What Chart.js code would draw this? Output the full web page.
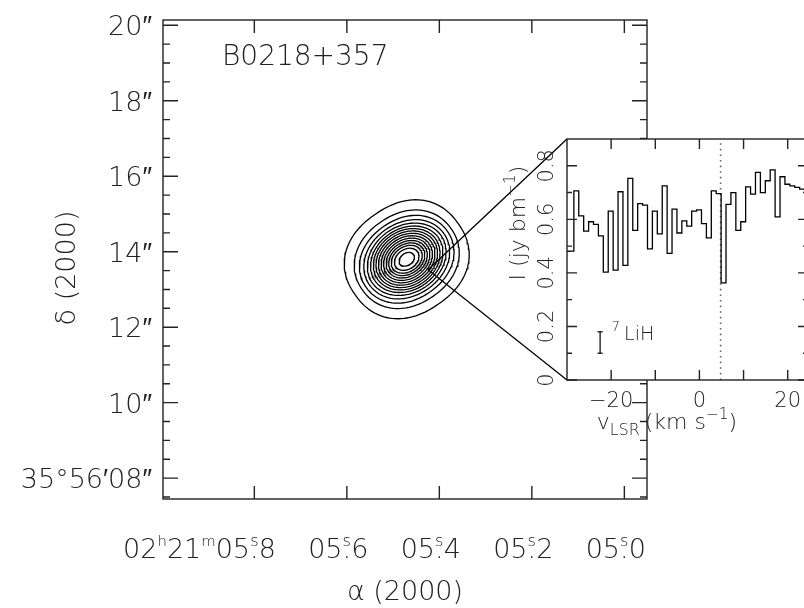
<!DOCTYPE html>
<html>
<head>
<meta charset="utf-8">
<script src="https://cdn.jsdelivr.net/npm/chart.js@4.4.0/dist/chart.umd.min.js"></script>
<style>
html, body { margin: 0; padding: 0; background: #fff; overflow: hidden; }
#wrap { position: relative; width: 804px; height: 608px; overflow: hidden; }
#mapChart { position: absolute; left: 0; top: 0; }
#specChart { position: absolute; left: 480px; top: 110px; }
</style>
</head>
<body>
<div id="wrap">
  <canvas id="mapChart" width="804" height="608"></canvas>
  <canvas id="specChart" width="340" height="340"></canvas>
</div>
<script>
// --- map: RA in seconds after 02h21m, Dec in arcsec after 35d56m ---
const raTicks = [5.8, 5.6, 5.4, 5.2, 5.0];
const raLabels = ['05.8', '05.6', '05.4', '05.2', '05.0'];
const decTicks = [20, 18, 16, 14, 12, 10, 8];
const decLabels = ['20″', '18″', '16″', '14″', '12″', '10″', '35°56′08″'];
const decMinor = [19.5, 19, 18.5, 17.5, 17, 16.5, 15.5, 15, 14.5, 13.5, 13, 12.5, 11.5, 11, 10.5, 9.5, 9, 8.5, 7.5];

// continuum peak and contour ellipses (half axes in arcsec, outer -> inner)
const peakRA = 5.4705;
const peakDec = 13.80;
const contourMajor = [1.65, 1.42, 1.30, 1.19, 1.10, 1.01, 0.93, 0.86, 0.79, 0.72, 0.65, 0.58, 0.51, 0.44, 0.35, 0.22];
const contourMinor = [1.45, 1.20, 1.06, 0.96, 0.88, 0.81, 0.75, 0.69, 0.63, 0.57, 0.51, 0.45, 0.39, 0.33, 0.26, 0.16];
const contourShape = [2.25, 2.15, 2.1, 2.05, 2, 2, 2, 2, 2, 2, 2, 2, 2, 2, 2, 2];
const contourTilt = 35;

// point the spectrum was taken at
const zoomRA = 5.4244;
const zoomDec = 13.52;

// --- spectrum ---
const velocity = [-30.11, -29.00, -27.89, -26.78, -25.66, -24.55, -23.44, -22.33, -21.22, -20.10,
  -18.99, -17.88, -16.77, -15.66, -14.54, -13.43, -12.32, -11.21, -10.10, -8.98,
  -7.87, -6.76, -5.65, -4.54, -3.42, -2.31, -1.20, -0.09, 1.02, 2.14,
  3.25, 4.36, 5.47, 6.58, 7.70, 8.81, 9.92, 11.03, 12.14, 13.26,
  14.37, 15.48, 16.59, 17.70, 18.82, 19.93, 21.04, 22.15, 23.26, 24.38];
const intensity = [0.48, 0.481, 0.706, 0.613, 0.556, 0.591, 0.581, 0.538, 0.403, 0.631,
  0.410, 0.703, 0.428, 0.753, 0.559, 0.659, 0.653, 0.490, 0.631, 0.546,
  0.725, 0.473, 0.638, 0.549, 0.594, 0.575, 0.631, 0.635, 0.584, 0.531,
  0.706, 0.696, 0.363, 0.656, 0.700, 0.559, 0.591, 0.721, 0.694, 0.775,
  0.700, 0.744, 0.785, 0.609, 0.759, 0.731, 0.725, 0.719, 0.713, 0.71];
const velTicks = [-20, -10, 0, 10, 20];
const velLabels = ['−20', '', '0', '', '20'];
const intTicks = [0, 0.2, 0.4, 0.6, 0.8];
const intLabels = ['0', '0.2', '0.4', '0.6', '0.8'];
const intMinor = [0.1, 0.3, 0.5, 0.7];
const lineVelocity = 4.8;
const errVel = -22.5;
const errRange = [0.10, 0.18];
const lineLabelPos = [-19.9, 0.15];

const SPEC_LEFT = 480, SPEC_TOP = 110;
const FONT = '"DejaVu Sans", "Liberation Sans", sans-serif';
const INK = '#222';

function setFont(ctx, size) {
    ctx.font = '200 ' + size + 'px ' + FONT;
}

function smallSize(p, size) {
    return size * (p.scale || 0.6);
}

function partWidth(ctx, p, size) {
    if (p.over) {
        setFont(ctx, smallSize(p, size));
        const a = ctx.measureText(p.t).width;
        setFont(ctx, size);
        return Math.max(a, ctx.measureText(p.over).width);
    }
    setFont(ctx, (p.sup || p.sub) ? smallSize(p, size) : size);
    return ctx.measureText(p.t).width + (p.gap || 0);
}

// draws text with superscripts / subscripts, y is the baseline
function drawRich(ctx, parts, x, y, size, align) {
    const widths = parts.map(p => partWidth(ctx, p, size));
    const total = widths.reduce((s, w) => s + w, 0);
    let cx = x;
    if (align === 'center') cx = x - total / 2;
    else if (align === 'right') cx = x - total;
    else if (align === 'over') {
        // anchor on the centre of the part that carries an "over" mark
        const k = parts.findIndex(p => p.over);
        cx = x - widths.slice(0, k).reduce((s, w) => s + w, 0) - widths[k] / 2;
    }
    ctx.textAlign = 'left';
    ctx.textBaseline = 'alphabetic';
    ctx.fillStyle = INK;
    parts.forEach((p, i) => {
        const w = widths[i];
        if (p.over) {
            setFont(ctx, size);
            ctx.fillText(p.over, cx + (w - ctx.measureText(p.over).width) / 2, y);
            setFont(ctx, smallSize(p, size));
            ctx.fillText(p.t, cx + (w - ctx.measureText(p.t).width) / 2, y - size * 0.45);
        } else {
            setFont(ctx, (p.sup || p.sub) ? smallSize(p, size) : size);
            const dy = p.sup ? -size * 0.45 : (p.sub ? size * 0.28 : 0);
            ctx.fillText(p.t, cx, y + dy);
        }
        cx += w;
    });
}

function contourPoints(i) {
    const pts = [];
    const a = contourMajor[i], b = contourMinor[i], e = 2 / contourShape[i];
    const tilt = contourTilt * Math.PI / 180;
    const arcsecPerSec = 15 * Math.cos((35 + 56 / 60) * Math.PI / 180);
    for (let k = 0; k <= 120; k++) {
        const t = k / 120 * 2 * Math.PI;
        const c = Math.cos(t), s = Math.sin(t);
        const u = a * Math.sign(c) * Math.pow(Math.abs(c), e);
        const v = b * Math.sign(s) * Math.pow(Math.abs(s), e);
        const dx = u * Math.cos(tilt) - v * Math.sin(tilt);
        const dy = u * Math.sin(tilt) + v * Math.cos(tilt);
        pts.push({ x: peakRA - dx / arcsecPerSec, y: peakDec + dy });
    }
    return pts;
}

const specDecor = {
    id: 'specDecor',
    beforeDraw(chart) {
        const { ctx, chartArea: a } = chart;
        ctx.save();
        ctx.fillStyle = '#fff';
        ctx.fillRect(a.left, a.top, a.right - a.left, a.bottom - a.top);
        ctx.restore();
    },
    afterDraw(chart) {
        const { ctx, chartArea: a, scales: { x, y } } = chart;
        ctx.save();
        ctx.strokeStyle = INK;
        ctx.lineWidth = 1.4;
        ctx.strokeRect(a.left, a.top, a.right - a.left, a.bottom - a.top);
        ctx.beginPath();
        velTicks.forEach(v => {
            const px = x.getPixelForValue(v);
            ctx.moveTo(px, a.bottom); ctx.lineTo(px, a.bottom - 10);
            ctx.moveTo(px, a.top); ctx.lineTo(px, a.top + 10);
        });
        intTicks.forEach(v => {
            const py = y.getPixelForValue(v);
            ctx.moveTo(a.left, py); ctx.lineTo(a.left + 10, py);
            ctx.moveTo(a.right, py); ctx.lineTo(a.right - 10, py);
        });
        intMinor.forEach(v => {
            const py = y.getPixelForValue(v);
            ctx.moveTo(a.left, py); ctx.lineTo(a.left + 5, py);
            ctx.moveTo(a.right, py); ctx.lineTo(a.right - 5, py);
        });
        ctx.stroke();

        velTicks.forEach((v, i) => {
            if (velLabels[i]) drawRich(ctx, [{ t: velLabels[i] }], x.getPixelForValue(v), a.bottom + 27, 21, 'center');
        });
        intTicks.forEach((v, i) => {
            ctx.save();
            ctx.translate(a.left - 21, y.getPixelForValue(v));
            ctx.rotate(-Math.PI / 2);
            drawRich(ctx, [{ t: intLabels[i] }], 0, 7, 21, 'center');
            ctx.restore();
        });

        // axis titles
        drawRich(ctx, [{ t: 'v' }, { t: 'LSR', sub: true, scale: 0.72, gap: 5 }, { t: '(km s' }, { t: '−1', sup: true, scale: 0.7 }, { t: ')' }],
            a.left + 100, a.bottom + 49, 22, 'center');
        ctx.save();
        ctx.translate(a.left - 49, a.top + 84);
        ctx.rotate(-Math.PI / 2);
        drawRich(ctx, [{ t: 'I (jy bm' }, { t: '−1', sup: true, scale: 0.7 }, { t: ')' }], 0, 7, 22, 'center');
        ctx.restore();

        // line label
        drawRich(ctx, [{ t: '7', sup: true, scale: 0.7, gap: 4 }, { t: 'LiH' }],
            x.getPixelForValue(lineLabelPos[0]), y.getPixelForValue(lineLabelPos[1]), 19, 'left');
        ctx.restore();
    }
};

const specChart = new Chart(document.getElementById('specChart'), {
    type: 'line',
    data: {
        datasets: [
            {
                data: velocity.map((v, i) => ({ x: v, y: intensity[i] })),
                stepped: 'middle',
                borderColor: '#000',
                borderWidth: 1.3,
                pointRadius: 0
            },
            {
                data: [{ x: lineVelocity, y: 0 }, { x: lineVelocity, y: 0.9 }],
                borderColor: '#666',
                borderWidth: 1.6,
                borderDash: [1.6, 4],
                pointRadius: 0
            },
            {
                data: [{ x: errVel, y: errRange[0] }, { x: errVel, y: errRange[1] }],
                borderColor: '#000',
                borderWidth: 1.2,
                pointStyle: 'line',
                pointRadius: 2.6,
                pointBorderWidth: 1.2,
                pointBorderColor: '#000'
            }
        ]
    },
    options: {
        responsive: false,
        animation: false,
        devicePixelRatio: 1,
        events: [],
        layout: { padding: { left: 87, top: 29, right: 12, bottom: 70 } },
        plugins: { legend: { display: false }, tooltip: { enabled: false } },
        scales: {
            x: { type: 'linear', min: -30, max: 24.6, display: false },
            y: { type: 'linear', min: 0, max: 0.9, display: false }
        }
    },
    plugins: [specDecor]
});

const mapDecor = {
    id: 'mapDecor',
    afterDraw(chart) {
        const { ctx, chartArea: a, scales: { x, y } } = chart;
        ctx.save();
        ctx.strokeStyle = INK;
        ctx.lineWidth = 1.4;
        ctx.strokeRect(a.left, a.top, a.right - a.left, a.bottom - a.top);
        ctx.beginPath();
        raTicks.forEach(v => {
            const px = x.getPixelForValue(v);
            ctx.moveTo(px, a.bottom); ctx.lineTo(px, a.bottom - 13);
            ctx.moveTo(px, a.top); ctx.lineTo(px, a.top + 13);
        });
        decTicks.forEach(v => {
            const py = y.getPixelForValue(v);
            ctx.moveTo(a.left, py); ctx.lineTo(a.left + 15, py);
            ctx.moveTo(a.right, py); ctx.lineTo(a.right - 15, py);
        });
        decMinor.forEach(v => {
            const py = y.getPixelForValue(v);
            ctx.moveTo(a.left, py); ctx.lineTo(a.left + 7, py);
            ctx.moveTo(a.right, py); ctx.lineTo(a.right - 7, py);
        });
        ctx.stroke();

        // tick labels
        raLabels.forEach((lab, i) => {
            const [whole, frac] = lab.split('.');
            let parts = [{ t: whole }, { t: 's', over: '.' }, { t: frac }];
            if (i === 0) parts = [{ t: '02' }, { t: 'h', sup: true, scale: 0.55 }, { t: '21' }, { t: 'm', sup: true, scale: 0.55 }].concat(parts);
            drawRich(ctx, parts, x.getPixelForValue(raTicks[i]), 558, 27, 'over');
        });
        decLabels.forEach((lab, i) => {
            drawRich(ctx, [{ t: lab }], 152, y.getPixelForValue(decTicks[i]) + 10, 27, 'right');
        });

        // titles
        drawRich(ctx, [{ t: 'α (2000)' }], (a.left + a.right) / 2, 600, 27, 'center');
        ctx.save();
        ctx.translate(65, 268);
        ctx.rotate(-Math.PI / 2);
        drawRich(ctx, [{ t: 'δ (2000)' }], 0, 10, 27, 'center');
        ctx.restore();
        drawRich(ctx, [{ t: 'B0218+357' }], 222, 65, 28, 'left');

        // lines from the map position to the spectrum box
        const s = specChart.chartArea;
        const fx = x.getPixelForValue(zoomRA), fy = y.getPixelForValue(zoomDec);
        ctx.strokeStyle = '#000';
        ctx.lineWidth = 1.3;
        ctx.beginPath();
        ctx.moveTo(SPEC_LEFT + s.left, SPEC_TOP + s.top);
        ctx.lineTo(fx, fy);
        ctx.lineTo(SPEC_LEFT + s.left, SPEC_TOP + s.bottom);
        ctx.stroke();
        ctx.restore();
    }
};

const mapChart = new Chart(document.getElementById('mapChart'), {
    type: 'scatter',
    data: {
        datasets: contourMajor.map((m, i) => ({
            data: contourPoints(i),
            showLine: true,
            borderColor: '#000',
            borderWidth: 1.3,
            pointRadius: 0,
            tension: 0
        }))
    },
    options: {
        responsive: false,
        animation: false,
        devicePixelRatio: 1,
        events: [],
        layout: { padding: { left: 163, top: 20, right: 157, bottom: 109 } },
        plugins: { legend: { display: false }, tooltip: { enabled: false } },
        scales: {
            x: { type: 'linear', reverse: true, min: 4.951, max: 5.9975, display: false },
            y: { type: 'linear', min: 7.447, max: 20.14, display: false }
        }
    },
    plugins: [mapDecor]
});
</script>
</body>
</html>
